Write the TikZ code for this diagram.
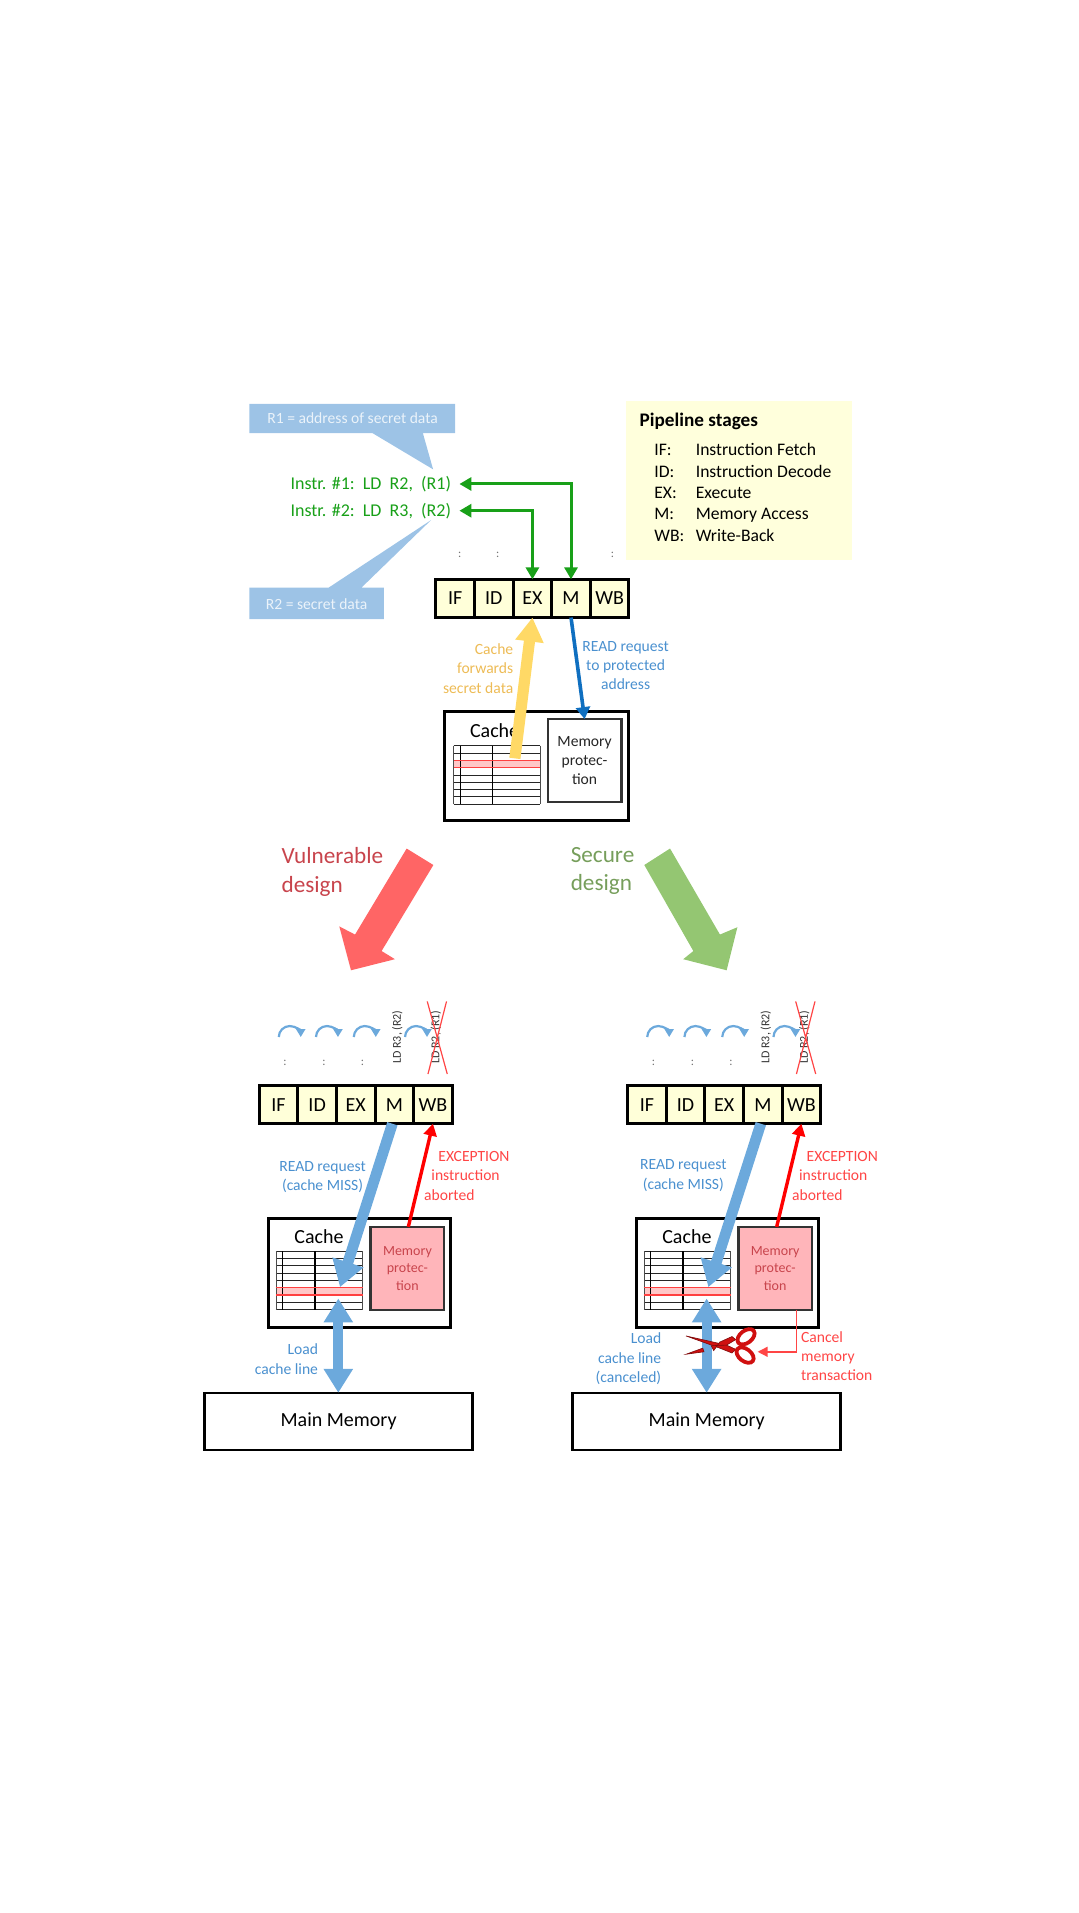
\documentclass[tikz,border=0pt]{standalone}
\usepackage{fontspec}
\setmainfont{Carlito}
\usetikzlibrary{positioning,arrows.meta}
\definecolor{CellYellow}{HTML}{FFFFD9}
\definecolor{NoteYellow}{HTML}{FFFFDC}
\definecolor{NoteBlue}{HTML}{9DC3E6}
\definecolor{FlowBlue}{HTML}{6CA9DC}
\definecolor{TextBlue}{HTML}{4A90CF}
\definecolor{DeepBlue}{HTML}{0F6FC0}
\definecolor{InstrGreen}{HTML}{18A018}
\definecolor{ForwardYellow}{HTML}{FFD966}
\definecolor{ForwardText}{HTML}{EDBB55}
\definecolor{BigRed}{HTML}{FF6565}
\definecolor{BigGreen}{HTML}{94C672}
\definecolor{ProtPink}{HTML}{FFB5BA}
\definecolor{ProtText}{HTML}{C8444C}
\definecolor{AlertRed}{HTML}{FF4545}
\definecolor{ScissorRed}{HTML}{D01010}

\begin{document}
\begin{tikzpicture}[x=.61pt,y=-.61pt,
  stagecell/.style={draw,fill=CellYellow,line width=1.5pt,inner sep=0pt,outer sep=0pt,
    minimum width=19.3pt,minimum height=19.1pt,font=\fontsize{10}{12}\selectfont},
  cachebox/.style={draw,line width=1.5pt,inner sep=0pt,outer sep=0pt,anchor=north west,
    minimum width=92pt,minimum height=54.3pt},
  protbox/.style={draw,draw=black!80,line width=1.2pt,inner sep=0pt,outer sep=0pt,anchor=north west,
    minimum width=36.8pt,minimum height=41.6pt,align=center,font=\fontsize{7.8}{9.6}\selectfont},
  membox/.style={draw,line width=1.2pt,inner sep=0pt,outer sep=0pt,anchor=north west,
    minimum width=134pt,minimum height=28.7pt,font=\fontsize{10}{12}\selectfont},
  small/.style={font=\fontsize{7.8}{9.6}\selectfont,align=center,inner sep=0pt},
  legend/.style={font=\fontsize{8.8}{10}\selectfont,anchor=base west,inner sep=0pt},
  stagedot/.style={font=\fontsize{6}{7}\selectfont,text=black!55,inner sep=0pt},
  readflow/.style={FlowBlue,line width=5.4pt,-{Triangle[length=13pt,width=15.5pt]}},
  loadflow/.style={FlowBlue,line width=5pt,{Triangle[length=12pt,width=14pt]}-{Triangle[length=12pt,width=14pt]}},
  alertflow/.style={red,line width=1.7pt,-{Triangle[length=6pt,width=6.5pt]}},
  hop/.style={FlowBlue,line width=1.1pt,-{Triangle[length=4pt,width=4.5pt]}},
]
\useasboundingbox (0,0) rectangle (884.4,1568);

% row of five pipeline stages, west end at #2,#3
\def\stagerow#1#2#3{
  \node[stagecell,anchor=west] (#1IF) at (#2,#3) {IF};
  \node[stagecell,right=0pt of #1IF] (#1ID) {ID};
  \node[stagecell,right=0pt of #1ID] (#1EX) {EX};
  \node[stagecell,right=0pt of #1EX] (#1M) {M};
  \node[stagecell,right=0pt of #1M] (#1WB) {WB};
}
% cache table, north west corner at #1,#2, highlighted row at #3
\def\cachetable#1#2#3{
  \fill[red!22] (#1,#2+#3) rectangle ++(71,6);
  \draw[line width=.45pt,black!85] (#1,#2) -- ++(71,0) ++(-71,6) -- ++(71,0) ++(-71,6) -- ++(71,0)
    ++(-71,6) -- ++(71,0) ++(-71,6) -- ++(71,0) ++(-71,6) -- ++(71,0) ++(-71,6) -- ++(71,0)
    ++(-71,6) -- ++(71,0) ++(-71,6) -- ++(71,0);
  \draw[line width=.6pt] (#1+5.4,#2) -- ++(0,48) (#1+32,#2) -- ++(0,48);
  \draw[line width=.4pt,black!70] (#1,#2) -- ++(0,48) (#1+71,#2) -- ++(0,48);
  \draw[red!75,line width=.6pt] (#1,#2+#3) -- ++(71,0) (#1,#2+#3+6) -- ++(71,0);
}
% hops, stage labels and the struck instruction above a stage row
\def\stagetop#1{
  \draw[hop] (#1+228.5,850) arc (180:360:9);
  \draw[hop] (#1+259,850) arc (180:360:9);
  \draw[hop] (#1+290,850) arc (180:360:9);
  \draw[hop] (#1+332,850) arc (180:360:9);
  \node[stagedot] (dota#1) at (#1+233.6,871) {:};
  \node[stagedot] (dotb#1) at (#1+265.5,871) {:};
  \node[stagedot] (dotc#1) at (#1+297.2,871) {:};
  \node[small,rotate=90,text=black!80,font=\fontsize{6}{7}\selectfont] (ldr#1) at (#1+325.6,850) {LD R3, (R2)};
  \node[small,rotate=90,text=black!80,font=\fontsize{6}{7}\selectfont] (ldx#1) at (#1+357.3,850) {LD R2, (R1)};
  \draw[AlertRed,line width=.6pt] (#1+350.2,820.8) -- (#1+366.6,880.3) (#1+366,820.8) -- (#1+350.8,880.3);
}

% notes
\fill[NoteYellow] (513,328.4) rectangle (698,459);
\node[anchor=west,inner sep=0pt,font=\bfseries\fontsize{9.6}{11}\selectfont] (legtitle) at (524,345.6) {Pipeline stages};
\node[legend] (legifa) at (536,373) {IF:};
\node[legend] (legifb) at (570,373) {Instruction Fetch};
\node[legend] (legida) at (536,391) {ID:};
\node[legend] (legidb) at (570,391) {Instruction Decode};
\node[legend] (legexa) at (536,408.6) {EX:};
\node[legend] (legexb) at (570,408.6) {Execute};
\node[legend] (legma) at (536,426) {M:};
\node[legend] (legmb) at (570,426) {Memory Access};
\node[legend] (legwba) at (536,443.6) {WB:};
\node[legend] (legwbb) at (570,443.6) {Write-Back};

\fill[NoteBlue] (204.5,331) rectangle (373,355) (305.3,355) -- (355,384.7) -- (346.6,355) -- cycle;
\fill[NoteBlue] (204.5,481.7) rectangle (314.7,507.4) (269.3,481.7) -- (353.3,426.3) -- (296.2,481.7) -- cycle;
\node[small,text=white!80!NoteBlue] (noteaddr) at (289,343) {R1 = address of secret data};
\node[small,text=white!80!NoteBlue] (notesecret) at (259.5,495) {R2 = secret data};

\node[anchor=east,inner sep=0pt,text=InstrGreen,font=\fontsize{9}{10}\selectfont] (instra) at (370,396.7) {Instr. \#1:\ \ LD\ \ R2,\ \ (R1)};
\node[anchor=east,inner sep=0pt,text=InstrGreen,font=\fontsize{9}{10}\selectfont] (instrb) at (370,418.6) {Instr. \#2:\ \ LD\ \ R3,\ \ (R2)};

% before the split
\stagerow{top}{357.3}{490.5}
\node[stagedot] (dota) at (376.8,455) {:};
\node[stagedot] (dotb) at (408,455) {:};
\node[stagedot] (dotc) at (502,455) {:};

\draw[InstrGreen,line width=1.5pt,{Triangle[length=6pt,width=6.5pt]}-{Triangle[length=6pt,width=6.5pt]}] ([xshift=4pt]instra.east) -| (topM.north);
\draw[InstrGreen,line width=1.5pt,{Triangle[length=6pt,width=6.5pt]}-{Triangle[length=6pt,width=6.5pt]}] ([xshift=4pt]instrb.east) -| (topEX.north);

\node[cachebox] (topcache) at (364,583.4) {};
\node[protbox,fill=white,text=black!85] (topprot) at (449,589.4) {Memory\\protec-\\tion};
\node[inner sep=0pt,font=\fontsize{10}{12}\selectfont] (topcachename) at (405.4,599.2) {Cache};
\cachetable{371.8}{611.2}{12}

\coordinate (topline) at (422,621.6);
\draw[ForwardYellow,line width=5.6pt,-{Triangle[length=12pt,width=13.5pt]}] (topline) -- (topEX.south);
\draw[DeepBlue,line width=1.8pt,-{Triangle[length=6pt,width=7pt]}] (topM.south) -- (topprot.north);

\node[small,anchor=east,align=right,text=ForwardText] (fwdtext) at (421,548) {Cache\\forwards\\secret data};
\node[small,text=TextBlue] (readtop) at (512.8,545.5) {READ request\\to protected\\address};

% the two outcomes
\fill[BigRed] (333.3,695.5) -- (355.2,709) -- (312.8,779.5) -- (323.7,786.2) -- (287.7,795.3) -- (278.1,759.3) -- (291,766) -- cycle;
\fill[BigGreen] (549.2,695.5) -- (528.1,709) -- (568.3,779.5) -- (560,786.2) -- (595.6,795.3) -- (604.4,760) -- (590.1,766) -- cycle;
\node[anchor=north west,inner sep=0pt,align=left,text=ProtText,font=\fontsize{11.6}{14.4}\selectfont] (vuln) at (230.5,694) {Vulnerable\\design};
\node[anchor=north west,inner sep=0pt,align=left,text=BigGreen!80!black,font=\fontsize{11.6}{14.4}\selectfont] (secure) at (467.5,694) {Secure\\design};

% vulnerable design
\stagetop{0}
\stagerow{v}{212.5}{905.4}
\node[cachebox,minimum width=91pt] (vcache) at (220,999) {};
\node[protbox,fill=ProtPink,text=ProtText,font=\fontsize{7}{8.6}\selectfont] (vprot) at (303.8,1005.6) {Memory\\protec-\\tion};
\node[inner sep=0pt,font=\fontsize{10}{12}\selectfont] (vcachename) at (261.5,1014) {Cache};
\cachetable{226.2}{1025.4}{30}
\node[membox] (vmem) at (167.7,1141.6) {Main Memory};

\coordinate (vrow) at (278.7,1055);
\coordinate (vrowb) at (277.3,1064.3);
\coordinate (vexc) at (334.7,1005.6);
\draw[readflow] ([xshift=-1pt]vM.south) -- (vrow);
\draw[alertflow] (vexc) -- (vWB.south);
\draw[loadflow] (vrowb) -- (vrowb|-vmem.north);

\node[small,text=TextBlue] (vread) at (264.4,964.5) {READ request\\(cache MISS)};
\node[small,text=AlertRed] (vexca) at (388.5,948) {EXCEPTION};
\node[small,text=AlertRed] (vexcb) at (381.6,963.6) {instruction};
\node[small,text=AlertRed] (vexcc) at (368.3,979.7) {aborted};
\node[small,anchor=east,align=right,text=TextBlue] (vload) at (261,1114) {Load\\cache line};

% secure design
\stagetop{302}
\stagerow{s}{514.5}{905.4}
\node[cachebox,minimum width=91pt] (scache) at (521.8,999) {};
\node[protbox,fill=ProtPink,text=ProtText,font=\fontsize{7}{8.6}\selectfont] (sprot) at (605.2,1005.6) {Memory\\protec-\\tion};
\node[inner sep=0pt,font=\fontsize{10}{12}\selectfont] (scachename) at (563,1014) {Cache};
\cachetable{527.8}{1025.4}{30}
\node[membox] (smem) at (469.4,1141.6) {Main Memory};

\coordinate (srow) at (580.6,1055);
\coordinate (srowb) at (579.2,1064.3);
\coordinate (sexc) at (636.6,1005.6);
\coordinate (scut) at (653,1073.4);
\coordinate (sblade) at (621,1108);
\draw[readflow] ([xshift=-1pt]sM.south) -- (srow);
\draw[alertflow] (sexc) -- (sWB.south);
\draw[loadflow] (srowb) -- (srowb|-smem.north);

% scissors
\coordinate (spivot) at (595.6,1102.5);
\fill[ScissorRed,draw=ScissorRed!60!black,line width=.3pt] (562.3,1095) -- (spivot) -- (603,1106) -- (600,1109) -- (590,1105) -- cycle;
\fill[ScissorRed,draw=ScissorRed!60!black,line width=.3pt] (562.3,1110) -- (576,1105) -- (577,1108) -- cycle;
\fill[ScissorRed,draw=ScissorRed!60!black,line width=.3pt] (583,1103) -- (spivot) -- (603,1098) -- (600,1095.5) -- (590,1100) -- (585,1107) -- cycle;
\draw[ScissorRed,line width=1.9pt,rotate around={38:(611.5,1095.7)}] (611.5,1095.7) ellipse (8 and 5);
\draw[ScissorRed,line width=1.9pt,rotate around={-38:(610.7,1110.7)}] (610.7,1110.7) ellipse (8 and 5);

\draw[AlertRed,line width=.7pt,-{Triangle[length=5pt,width=5pt]}] (scut) |- (sblade);

\node[small,text=TextBlue] (sread) at (560.1,963.5) {READ request\\(cache MISS)};
\node[small,text=AlertRed] (sexca) at (690.4,948) {EXCEPTION};
\node[small,text=AlertRed] (sexcb) at (683,963.6) {instruction};
\node[small,text=AlertRed] (sexcc) at (670,979.7) {aborted};
\node[small,anchor=east,align=right,text=TextBlue] (sload) at (542.3,1113.7) {Load\\cache line\\(canceled)};
\node[small,anchor=west,align=left,text=AlertRed] (scancel) at (656.3,1111.5) {Cancel\\memory\\transaction};

\end{tikzpicture}
\end{document}
